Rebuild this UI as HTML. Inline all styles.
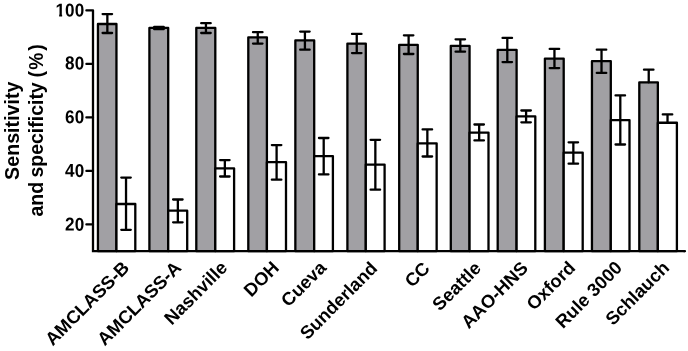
<!DOCTYPE html>
<html><head><meta charset="utf-8"><title>Sensitivity and specificity</title>
<style>html,body{margin:0;padding:0;background:#fff}svg{display:block}text{font-family:"Liberation Sans",sans-serif;font-weight:bold;fill:#000}</style></head><body>
<svg width="688" height="351" viewBox="0 0 688 351">
<rect width="688" height="351" fill="#fff"/>
<g stroke="#000" stroke-width="2.3" fill="none" stroke-linejoin="round" stroke-linecap="round">
<rect x="97.95" y="24.0" width="18.50" height="227.20" fill="#a1a0a4"/>
<rect x="116.45" y="204.0" width="18.85" height="47.20" fill="#fff"/>
<rect x="149.4" y="27.9" width="18.80" height="223.30" fill="#a1a0a4"/>
<rect x="168.2" y="210.7" width="19.00" height="40.50" fill="#fff"/>
<rect x="196.3" y="27.9" width="19.00" height="223.30" fill="#a1a0a4"/>
<rect x="215.3" y="168.3" width="18.80" height="82.90" fill="#fff"/>
<rect x="248.3" y="37.3" width="18.60" height="213.90" fill="#a1a0a4"/>
<rect x="266.9" y="162.2" width="19.10" height="89.00" fill="#fff"/>
<rect x="295.35" y="40.4" width="18.85" height="210.80" fill="#a1a0a4"/>
<rect x="314.2" y="156.1" width="18.70" height="95.10" fill="#fff"/>
<rect x="347.4" y="43.6" width="18.40" height="207.60" fill="#a1a0a4"/>
<rect x="365.8" y="164.6" width="18.80" height="86.60" fill="#fff"/>
<rect x="399.2" y="44.8" width="18.55" height="206.40" fill="#a1a0a4"/>
<rect x="417.75" y="143.3" width="18.90" height="107.90" fill="#fff"/>
<rect x="450.8" y="45.8" width="18.75" height="205.40" fill="#a1a0a4"/>
<rect x="469.55" y="132.6" width="18.95" height="118.60" fill="#fff"/>
<rect x="497.7" y="49.8" width="18.90" height="201.40" fill="#a1a0a4"/>
<rect x="516.6" y="116.45" width="18.70" height="134.75" fill="#fff"/>
<rect x="544.9" y="58.6" width="18.80" height="192.60" fill="#a1a0a4"/>
<rect x="563.7" y="152.6" width="19.00" height="98.60" fill="#fff"/>
<rect x="591.95" y="61.2" width="18.85" height="190.00" fill="#a1a0a4"/>
<rect x="610.8" y="120.1" width="18.70" height="131.10" fill="#fff"/>
<rect x="639.3" y="82.3" width="18.55" height="168.90" fill="#a1a0a4"/>
<rect x="657.85" y="122.75" width="19.05" height="128.45" fill="#fff"/>
<path d="M107.35 14.1V33.0M102.60 14.1H112.10M102.60 33.0H112.10"/>
<path d="M126.03 177.6V229.8M121.28 177.6H130.78M121.28 229.8H130.78"/>
<path d="M158.95 26.8V29.2M154.20 26.8H163.70M154.20 29.2H163.70"/>
<path d="M177.85 199.5V222.3M173.10 199.5H182.60M173.10 222.3H182.60"/>
<path d="M205.95 23.15V33.0M201.20 23.15H210.70M201.20 33.0H210.70"/>
<path d="M224.85 160.1V176.5M220.10 160.1H229.60M220.10 176.5H229.60"/>
<path d="M257.75 32.15V43.55M253.00 32.15H262.50M253.00 43.55H262.50"/>
<path d="M276.60 145.1V179.7M271.85 145.1H281.35M271.85 179.7H281.35"/>
<path d="M304.92 31.6V49.7M300.17 31.6H309.67M300.17 49.7H309.67"/>
<path d="M323.70 138.0V174.4M318.95 138.0H328.45M318.95 174.4H328.45"/>
<path d="M356.75 33.9V53.1M352.00 33.9H361.50M352.00 53.1H361.50"/>
<path d="M375.35 139.8V189.7M370.60 139.8H380.10M370.60 189.7H380.10"/>
<path d="M408.62 35.3V54.0M403.88 35.3H413.38M403.88 54.0H413.38"/>
<path d="M427.35 129.4V156.5M422.60 129.4H432.10M422.60 156.5H432.10"/>
<path d="M460.32 39.3V51.7M455.57 39.3H465.07M455.57 51.7H465.07"/>
<path d="M479.17 124.5V140.4M474.42 124.5H483.92M474.42 140.4H483.92"/>
<path d="M507.30 37.9V62.1M502.55 37.9H512.05M502.55 62.1H512.05"/>
<path d="M526.10 110.5V122.3M521.35 110.5H530.85M521.35 122.3H530.85"/>
<path d="M554.45 48.9V68.1M549.70 48.9H559.20M549.70 68.1H559.20"/>
<path d="M573.35 142.3V163.7M568.60 142.3H578.10M568.60 163.7H578.10"/>
<path d="M601.52 49.7V72.9M596.77 49.7H606.27M596.77 72.9H606.27"/>
<path d="M620.30 95.4V144.5M615.55 95.4H625.05M615.55 144.5H625.05"/>
<path d="M648.73 69.7V82.3M643.98 69.7H653.48"/>
<path d="M667.52 114.4V122.75M662.77 114.4H672.27"/>
<path d="M93.0 10.4V251.2H684.95" stroke-linejoin="miter" stroke-linecap="butt"/><path d="M684 251.2H684.95"/>
<path d="M86.4 10.4H93"/>
<path d="M86.4 63.9H93"/>
<path d="M86.4 117.45H93"/>
<path d="M86.4 170.95H93"/>
<path d="M86.4 224.45H93"/>
</g>
<text transform="translate(84.15 16.6) rotate(0.15) scale(0.92 1)" font-size="18.6" text-anchor="end">100</text>
<text transform="translate(84.15 69.4) rotate(0.15) scale(0.92 1)" font-size="18.6" text-anchor="end">80</text>
<text transform="translate(84.15 123.2) rotate(0.15) scale(0.92 1)" font-size="18.6" text-anchor="end">60</text>
<text transform="translate(84.15 176.9) rotate(0.15) scale(0.92 1)" font-size="18.6" text-anchor="end">40</text>
<text transform="translate(84.15 230.65) rotate(0.15) scale(0.92 1)" font-size="18.6" text-anchor="end">20</text>
<rect x="55.9" y="13.9" width="3.25" height="3.3" fill="#fff"/><rect x="62.15" y="13.9" width="3.6" height="3.3" fill="#fff"/>
<text transform="translate(19.3 130.7) rotate(-90)" font-size="19.7" text-anchor="middle">Sensitivity</text>
<text transform="translate(43.1 216.5) rotate(-90) scale(0.99 1)" font-size="19.7">and</text>
<text transform="translate(43.1 177.5) rotate(-90) scale(0.988 1)" font-size="19.7">specificity</text>
<text transform="translate(43.1 77.6) rotate(-90) scale(1 1)" font-size="19.7">(</text>
<text transform="translate(43.1 69.7) rotate(-90) scale(0.97 1)" font-size="19.7">%</text>
<text transform="translate(43.1 50.7) rotate(-90) scale(1 1)" font-size="19.7">)</text>
<text transform="translate(130.35 268.9) rotate(-45)" font-size="18.3" text-anchor="end">AMCLASS-B</text>
<text transform="translate(182.40 268.9) rotate(-45)" font-size="18.3" text-anchor="end">AMCLASS-A</text>
<text transform="translate(228.50 268.9) rotate(-45)" font-size="18.3" text-anchor="end">Nashville</text>
<text transform="translate(280.10 268.9) rotate(-45)" font-size="18.3" text-anchor="end">DOH</text>
<text transform="translate(327.40 268.9) rotate(-45)" font-size="18.3" text-anchor="end">Cueva</text>
<text transform="translate(378.50 269.4) rotate(-45)" font-size="18.3" text-anchor="end">Sunderland</text>
<text transform="translate(430.95 269.6) rotate(-45)" font-size="18.3" text-anchor="end">CC</text>
<text transform="translate(482.25 269.4) rotate(-45)" font-size="18.3" text-anchor="end">Seattle</text>
<text transform="translate(529.10 269.2) rotate(-45)" font-size="18.3" text-anchor="end">AAO-HNS</text>
<text transform="translate(576.40 268.9) rotate(-45)" font-size="18.3" text-anchor="end">Oxford</text>
<text transform="translate(623.30 268.9) rotate(-45)" font-size="18.3" text-anchor="end">Rule 3000</text>
<text transform="translate(670.35 268.9) rotate(-45)" font-size="18.3" text-anchor="end">Schlauch</text>
</svg></body></html>
